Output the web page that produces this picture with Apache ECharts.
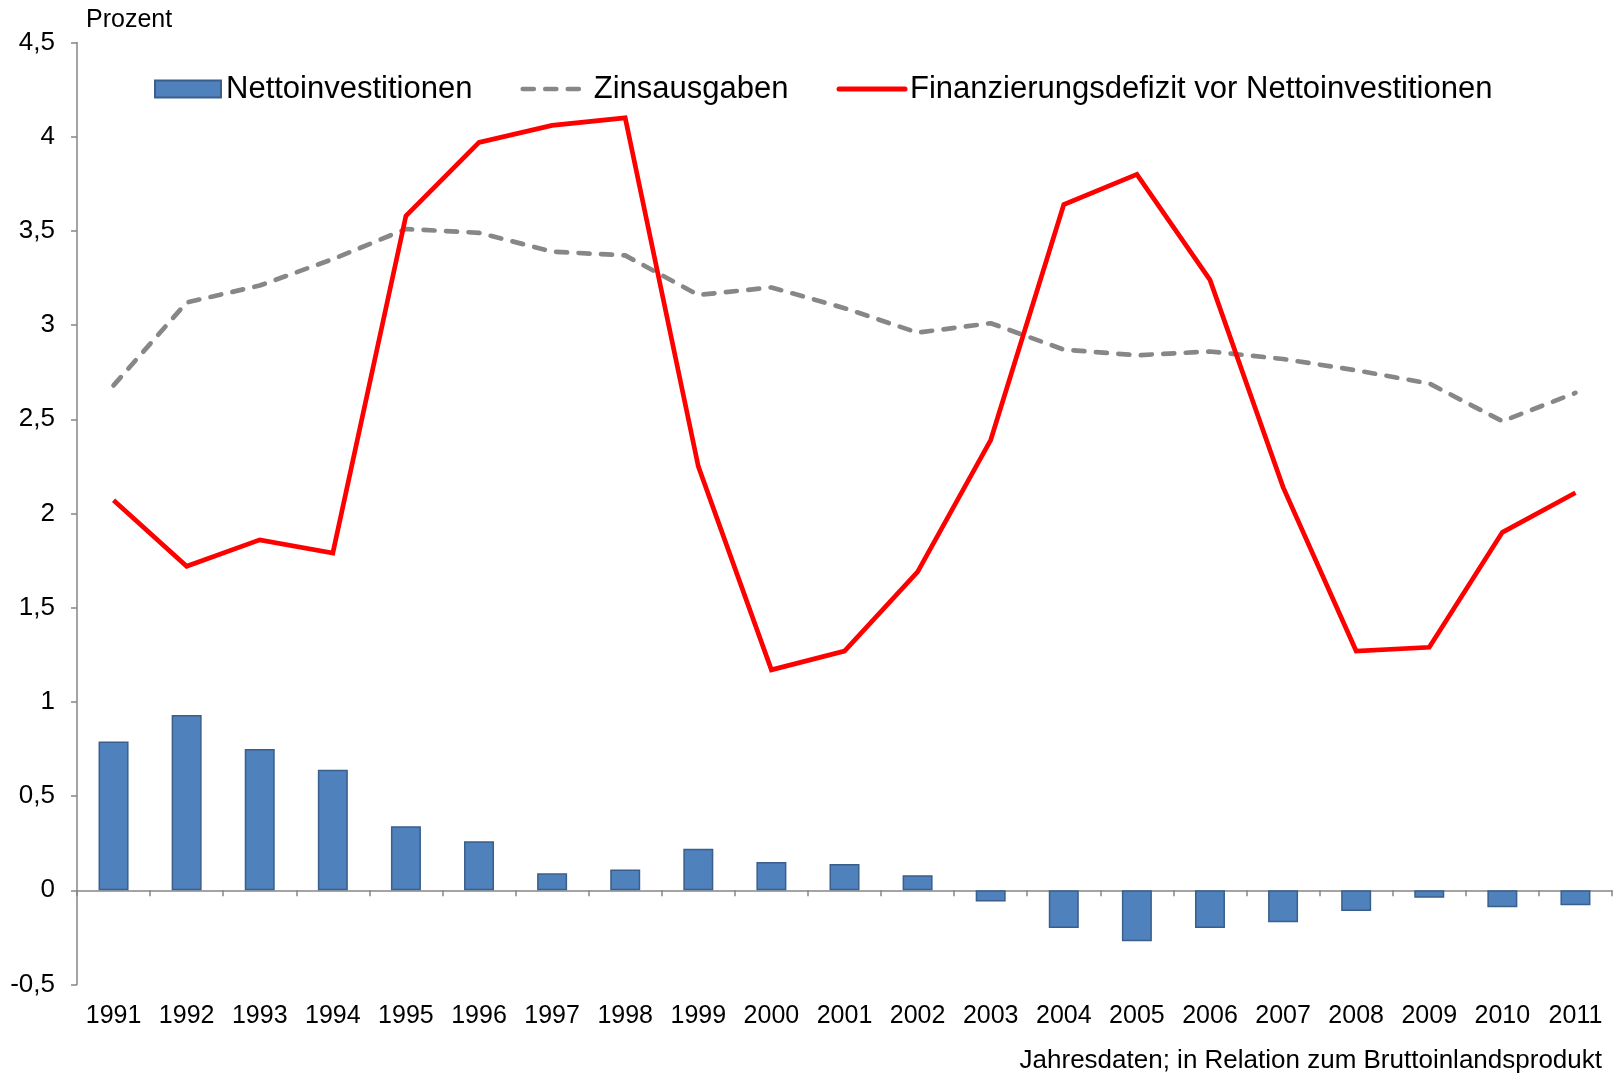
<!DOCTYPE html>
<html>
<head>
<meta charset="utf-8">
<script src="https://cdn.jsdelivr.net/npm/echarts@6/dist/echarts.min.js"></script>
<style>
html, body { margin: 0; padding: 0; background: #fff; }
#chart { width: 1617px; height: 1078px; }
</style>
</head>
<body>
<div id="chart"></div>
<script>
// Jahre
const years = ['1991', '1992', '1993', '1994', '1995', '1996', '1997', '1998', '1999', '2000', '2001',
	'2002', '2003', '2004', '2005', '2006', '2007', '2008', '2009', '2010', '2011'];
// Nettoinvestitionen (Balken)
const nettoinvestitionen = [0.79, 0.93, 0.75, 0.64, 0.34, 0.26, 0.09, 0.11, 0.22, 0.15, 0.14,
	0.08, -0.06, -0.2, -0.27, -0.2, -0.17, -0.11, -0.04, -0.09, -0.08];
// Zinsausgaben (gestrichelt)
const zinsausgaben = [2.68, 3.12, 3.21, 3.35, 3.51, 3.49, 3.39, 3.37, 3.16, 3.2, 3.09,
	2.96, 3.01, 2.87, 2.84, 2.86, 2.82, 2.76, 2.69, 2.49, 2.64];
// Finanzierungsdefizit vor Nettoinvestitionen
const defizit = [2.07, 1.72, 1.86, 1.79, 3.58, 3.97, 4.06, 4.1, 2.25, 1.17, 1.27,
	1.69, 2.39, 3.64, 3.8, 3.24, 2.14, 1.27, 1.29, 1.9, 2.11];
// Achse
const yMin = -0.5;
const yMax = 4.5;
const yStep = 0.5;

const font = '"Liberation Sans", Arial, sans-serif';
const axisGrey = '#868686';
const dashGrey = '#878787';

const myChart = echarts.init(document.getElementById('chart'));

const option = {
	backgroundColor: '#fff',
	animation: false,
	textStyle: { fontFamily: font, color: '#000' },
	grid: { left: 77, right: 5, top: 42.5, bottom: 93.5, containLabel: false },
	legend: {
		left: 154,
		top: 71,
		padding: 0,
		itemGap: 48,
		itemWidth: 66,
		itemHeight: 17,
		textStyle: { fontSize: 31, fontFamily: font, color: '#000', lineHeight: 36 },
		data: [
			{ name: 'Nettoinvestitionen', icon: 'rect' },
			{
				name: 'Zinsausgaben',
				itemStyle: { opacity: 0 },
				lineStyle: { width: 4.7, color: dashGrey, type: [11, 11.5], cap: 'round' }
			},
			{
				name: 'Finanzierungsdefizit vor Nettoinvestitionen',
				itemStyle: { opacity: 0 },
				lineStyle: { width: 5, color: '#FF0000', cap: 'round' }
			}
		]
	},
	xAxis: [{
		type: 'category',
		data: years,
		axisLine: { onZero: true, lineStyle: { color: axisGrey, width: 1.5 } },
		axisTick: { show: true, length: 6, lineStyle: { color: axisGrey, width: 1.5 } },
		axisLabel: { show: false }
	}, {
		type: 'category',
		data: years,
		position: 'bottom',
		axisLine: { show: false, onZero: false },
		axisTick: { show: false },
		axisLabel: { margin: 19, fontSize: 25, fontFamily: font, color: '#000' }
	}],
	yAxis: {
		type: 'value',
		min: yMin,
		max: yMax,
		interval: yStep,
		splitLine: { show: false },
		axisLine: { show: true, lineStyle: { color: axisGrey, width: 1.5 } },
		axisTick: { show: true, length: 6, lineStyle: { color: axisGrey, width: 1.5 } },
		axisLabel: {
			margin: 22,
			fontSize: 26,
			fontFamily: font,
			color: '#000',
			formatter: function (v) {
				return String(Math.round(v * 10) / 10).replace('.', ',');
			}
		}
	},
	graphic: [{
		type: 'text',
		left: 86,
		top: 8,
		style: { text: 'Prozent', fontSize: 25, fontFamily: font, fill: '#000' }
	}, {
		type: 'text',
		right: 15,
		top: 1048,
		style: { text: 'Jahresdaten; in Relation zum Bruttoinlandsprodukt', fontSize: 26, fontFamily: font, fill: '#000' }
	}],
	series: [{
		name: 'Nettoinvestitionen',
		type: 'bar',
		data: nettoinvestitionen,
		barWidth: 30,
		itemStyle: { color: '#4F81BD', borderColor: '#3A5F8B', borderWidth: 1.5 }
	}, {
		name: 'Zinsausgaben',
		type: 'line',
		data: zinsausgaben,
		symbol: 'none',
		lineStyle: { color: dashGrey, width: 4.7, type: [11, 11.5], cap: 'round' },
		itemStyle: { color: dashGrey }
	}, {
		name: 'Finanzierungsdefizit vor Nettoinvestitionen',
		type: 'line',
		data: defizit,
		symbol: 'none',
		lineStyle: { color: '#FF0000', width: 4.7, join: 'miter' },
		itemStyle: { color: '#FF0000' }
	}]
};

myChart.setOption(option);
</script>
</body>
</html>
